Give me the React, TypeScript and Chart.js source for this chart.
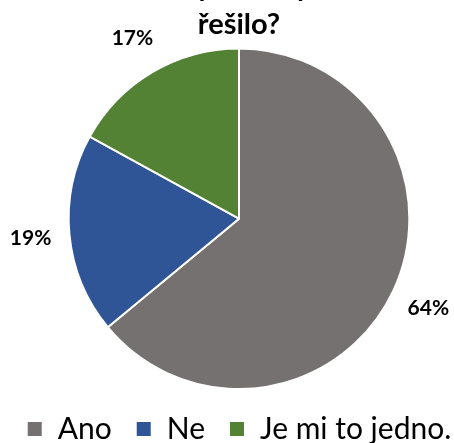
import React, { useEffect, useRef } from "react";
import { Chart, registerables } from "chart.js";

Chart.register(...registerables);

const titleLines = ["Chtěli byste, aby se to", "řešilo?"];
const categories = ["Ano", "Ne", "Je mi to jedno."];
const values = [64, 19, 17];
const colors = ["#767171", "#2F5597", "#548235"];

const FONT = "Lato, 'Open Sans', sans-serif";

const outsideLabels = {
  id: "outsideLabels",
  afterDatasetsDraw(chart: any) {
    const ctx = chart.ctx;
    const meta = chart.getDatasetMeta(0);
    const data = chart.data.datasets[0].data as number[];
    const total = data.reduce((a, b) => a + b, 0);
    ctx.save();
    ctx.font = `bold 21px ${FONT}`;
    ctx.fillStyle = "#000";
    ctx.textAlign = "center";
    ctx.textBaseline = "middle";
    meta.data.forEach((arc: any, i: number) => {
      const { x, y, startAngle, endAngle, outerRadius } = arc.getProps(
        ["x", "y", "startAngle", "endAngle", "outerRadius"],
        true
      );
      const mid = (startAngle + endAngle) / 2;
      const r = outerRadius + 39;
      const pct = Math.round((data[i] / total) * 100) + "%";
      ctx.fillText(pct, x + Math.cos(mid) * r, y + Math.sin(mid) * r);
    });
    ctx.restore();
  },
};

export default function App() {
  const ref = useRef<HTMLCanvasElement>(null);
  useEffect(() => {
    const chart = new Chart(ref.current!, {
      type: "pie",
      data: {
        labels: categories,
        datasets: [
          {
            data: values,
            backgroundColor: colors,
            borderColor: "#ffffff",
            borderWidth: 2,
          },
        ],
      },
      options: {
        responsive: false,
        animation: false,
        layout: { padding: { left: 24, right: 0, top: 0, bottom: 0 } },
        plugins: {
          title: {
            display: true,
            text: titleLines,
            color: "#000",
            font: { family: FONT, size: 29, weight: "bold", lineHeight: 1.31 },
            padding: { top: 0, bottom: 3.4 },
          },
          legend: {
            display: true,
            position: "bottom",
            labels: {
              boxWidth: 16,
              boxHeight: 16,
              padding: 24,
              color: "#000",
              font: { family: FONT, size: 30 },
            },
          },
          tooltip: { enabled: false },
        },
      },
      plugins: [outsideLabels],
    });
    return () => chart.destroy();
  }, []);
  return (
    <div
      style={{
        position: "fixed",
        left: -33,
        top: -32,
        width: 520,
        height: 486,
        background: "#fff",
      }}
    >
      <canvas ref={ref} width={520} height={486} />
    </div>
  );
}
